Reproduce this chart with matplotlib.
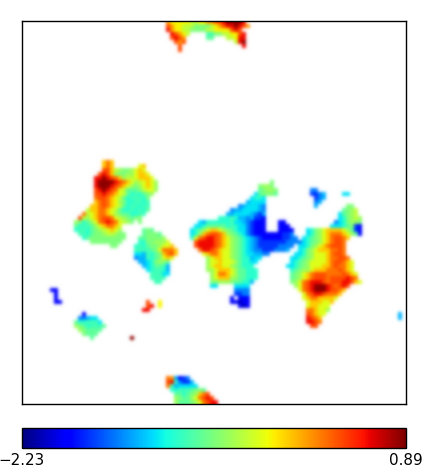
import numpy as np
import matplotlib
matplotlib.use("Agg")
import matplotlib.pyplot as plt
from matplotlib.cm import ScalarMappable
from matplotlib.colors import Normalize

GRID = 96
VMIN, VMAX = -2.23, 0.89
TICK_LABELS = ["\u22122.23", "0.89"]
LEVELS = {"0": -2.07, "1": -1.85, "a": -1.67, "2": -1.45, "b": -1.29, "3": -1.14,
          "c": -0.98, "4": -0.89, "d": -0.79, "5": -0.67, "e": -0.55, "6": -0.42,
          "f": -0.30, "7": -0.20, "g": -0.05, "8": 0.11, "h": 0.23, "9": 0.36,
          "A": 0.58, "B": 0.85}

# (row, first column, coded cell values; '.' = no data)
top_patch = [
    (0, 36, "87777766778899ABBBBA"), (1, 36, "987766655556789AABA98"),
    (2, 36, "A877665555667777 9A9".replace(" ", "")), (3, 37, "A9876....44556677 9A".replace(" ", "")),
    (4, 37, "9A98"), (4, 46, "dd"), (4, 51, "667AA"), (5, 38, "989"), (5, 53, "6AB"),
    (6, 39, "9"), (6, 55, "A"), (7, 39, "9"),
]
left_patch = [
    (35, 20, "ghg"), (36, 20, "ghg......fg"), (37, 20, "99g6e55efgf"),
    (38, 19, "9A9ge55eefggf"), (39, 18, "AABA9hge66fgggf"), (40, 18, "ABBBBA9hgfe6fgfe"),
    (41, 18, "ABBBA9hgfe5efgfe"), (42, 18, "9ABA9hf6ddd56ffe"), (43, 18, "99A9hgf6dc4cd5e"),
    (44, 18, "h99hgf6dc444c5"), (45, 18, "gh9hg7e5cc44c4"), (46, 17, "ggh9hgf6dc44c44"),
    (47, 16, "6gghhgf6dcc4c4cd"), (48, 15, "h6fghhgfe5ddcc44"), (49, 14, "96efgh99hf6e5d55"),
    (50, 13, "e5cdefh9A9hf6e5.5"), (51, 13, "dc44defghhgf"), (52, 13, "c44cd5e6fgfe"),
    (53, 14, "44cd55e66e55"), (54, 15, "cd555555555"), (55, 17, "55555555"), (56, 22, "55"),
]
small_patch = [
    (52, 30, "d5d"), (53, 30, "d555d"), (54, 29, "dd5555e"), (55, 29, "cc55eeef"),
    (56, 28, "c4cd55effg"), (57, 28, "4444d5fhhhg"), (58, 28, "33b4cd5gh9g"),
    (59, 28, "2bb4cd5fgf"), (60, 29, "bb3c5e5d"), (61, 30, "b3cdd4b"), (62, 31, "3c44cb"),
    (63, 32, "44433"), (64, 32, "4444"), (65, 33, "44"),
]
centre_patch = [
    (40, 62, "5"), (41, 59, "5ee5"), (42, 59, "d5ee5"), (43, 58, "3d555d"), (44, 57, "3cc3"),
    (45, 56, "b3333"), (46, 54, "2b333b2"), (47, 52, "2bb3333b2"), (48, 51, "bb3333b2ab"),
    (49, 49, "ccc4cbb2baa1"), (50, 44, "3bcccccc433b2a111"), (50, 64, "11"),
    (51, 43, "33cdddddc4c332a111"), (51, 64, "111"),
    (52, 42, "3cdefggfe5dc332a111"), (52, 64, "1111"),
    (53, 42, "3cegh99hge5dc32a1111111aa2"),
    (54, 42, "cfh9AA9hgfe5dc3b2a11111aa22"),
    (55, 43, "9AAAA9hgfe5" "dc3b2a" "aaaaa" "a2222b"),
    (56, 43, "9AAAA9hgfe5" "dc3b2" "aaaaa" "2222"),
    (57, 44, "hAA9hgffe5" "dc3b" "22aaa2" "22b"),
    (58, 45, "fghhgffe5" "dc3" "3bb22"), (59, 46, "efggffe5" "dcc" "b33"),
    (60, 46, "effgfffe" "dcc" "33"), (61, 46, "efggffe5" "dcc" "c"),
    (62, 46, "eefgggfe" "ddccc"), (63, 47, "efhhgfe" "ddccc"), (64, 47, "efgggee" "ddccc"),
    (65, 47, "55eee5ddccb"), (66, 47, "33"), (66, 53, "3333"), (67, 53, "2222"),
    (68, 53, "aa22"), (69, 52, "1.111"), (70, 52, "11011"), (71, 54, "101"),
]
right_patch = [
    (46, 81, "55"), (47, 80, "d5e6"), (48, 79, "3d5e6"), (49, 79, "3c5e6e"), (50, 78, "23c5ee5"),
    (51, 77, "333cd5a1"), (52, 71, "3c5efggggfeda1"), (53, 71, "3c5efghhhgfed1"),
    (54, 70, "3cd5efgh99hg"), (55, 70, "3cd5efgh99h"), (56, 69, "33c5efgh999h"),
    (57, 69, "3c5efggghh9h"), (58, 68, "33c5efffgh99h"), (59, 67, "33cd5efffghh99h"),
    (60, 67, "3cd5effffgh99hgf"), (61, 66, "33cd5efffggh9hhgf"), (62, 67, "cd5eefggghhh9hgf"),
    (63, 67, "d5efgh999hhhh9hgf"), (64, 67, "d5efgh999h9999A9h"), (65, 67, "5efh9AAA9h999AA9gf"),
    (66, 68, "efh9ABBBA9h9A9"), (67, 69, "fh9ABBBA99hg"), (68, 70, "fh9AA9hhhg"),
    (69, 70, "fghhggggf"), (70, 71, "fgggffg"), (71, 71, "fggfff"), (72, 71, "hhgffe"),
    (73, 71, "9hgff"), (74, 71, "A9hg"), (75, 71, "AA9h"), (76, 72, "99"),
]
specks = [
    (42, 72, "22"), (43, 72, "aa2b"), (44, 73, "a2b"), (45, 73, "2b"), (46, 73, "b"),
    (43, 80, "33"), (73, 94, "b"), (74, 94, "b"),
    (67, 7, "11"), (68, 8, "1"), (69, 8, "1"), (70, 8, "11"),
    (70, 31, "9"), (71, 31, "9A"), (72, 30, "AA"), (70, 34, "7"), (71, 34, "7"), (79, 27, "B"),
]
lower_left_patch = [
    (73, 15, "1"), (74, 14, "22b33"), (75, 13, "dcc4443"), (76, 13, "e5dc444d"),
    (77, 14, "e5dddd"), (78, 15, "5ddd"), (79, 17, "d"),
]
bottom_patch = [
    (89, 36, "h8b1a2"), (90, 36, "9Ac2aab"), (91, 36, "h4b33333"), (92, 37, "cc444d55d"),
    (93, 38, "ddcd5egh9"), (94, 38, "e5ddefh9A9"), (95, 38, "eddd5efh9AA"),
]
PATCHES = [top_patch, left_patch, small_patch, centre_patch, right_patch,
           specks, lower_left_patch, bottom_patch]

grid = np.full((GRID, GRID), np.nan)
for patch in PATCHES:
    for row, col, codes in patch:
        for i, ch in enumerate(codes):
            if ch != "." and col + i < GRID:
                grid[row, col + i] = LEVELS[ch]

norm = Normalize(VMIN, VMAX)
cmap = plt.get_cmap("jet").copy()
cmap.set_bad("white")
rgba = cmap(norm(np.ma.masked_invalid(grid)))

W, H = 428, 475
fig = plt.figure(figsize=(W / 100, H / 100), dpi=100)
ax = fig.add_axes([21.9 / W, (H - 404.5) / H, 384 / W, 384 / H])
ax.imshow(rgba, interpolation="gaussian", aspect="equal")
ax.set_xticks([])
ax.set_yticks([])
for s in ax.spines.values():
    s.set_linewidth(1.0)

cax = fig.add_axes([21.9 / W, (H - 447.5) / H, 384 / W, 19.5 / H])
cb = fig.colorbar(ScalarMappable(norm, cmap), cax=cax, orientation="horizontal",
                  ticks=[VMIN, VMAX])
cb.ax.set_xticklabels(TICK_LABELS, fontsize=10.9)
cb.ax.tick_params(length=0, pad=4.0)
cb.outline.set_linewidth(1.0)

fig.savefig("out.png", dpi=100)
